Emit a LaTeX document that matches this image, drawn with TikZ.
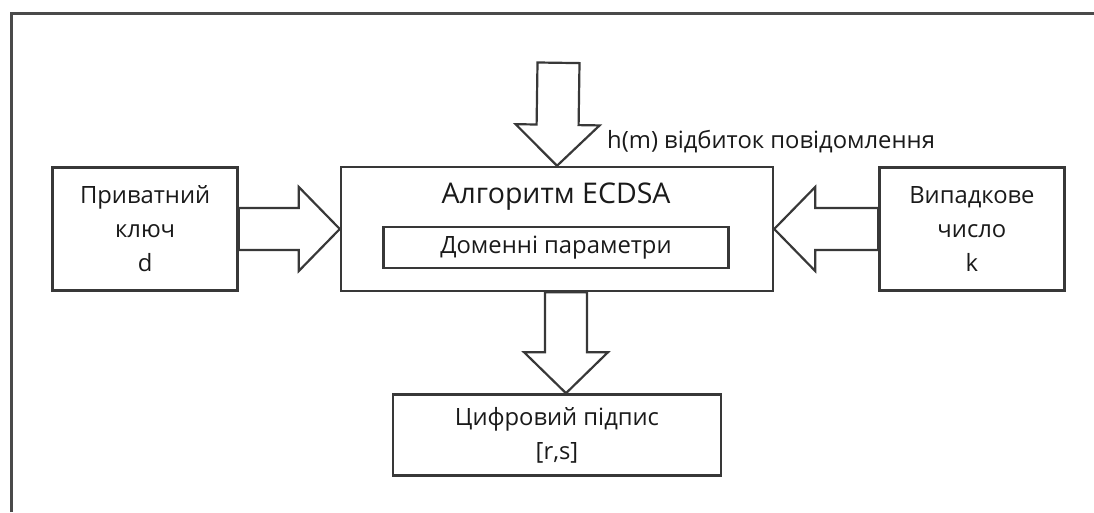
\documentclass[tikz,border=0pt]{standalone}
\usepackage{fontspec}
\setmainfont{Open Sans}
\usepackage{tikz}
\usetikzlibrary{positioning,calc}
\definecolor{ln}{HTML}{383838}
\definecolor{frm}{HTML}{4A4A4A}
\definecolor{ink}{HTML}{1A1A1A}
\tikzset{
  box/.style={draw=ln, line width=2.4pt, fill=white, align=center, text=ink,
              font=\fontsize{23.8}{34}\selectfont, inner sep=0pt},
  ttl/.style={text=ink, font=\fontsize{28.5}{34}\selectfont, inner sep=0pt},
  txt/.style={text=ink, font=\fontsize{23.8}{34}\selectfont, inner sep=0pt},
  fat/.style={draw=ln, line width=2.2pt, fill=white, line join=miter,
              to path={($(\tikztostart)!21pt!90:(\tikztotarget)$)
                -- ($(\tikztotarget)!41pt!(\tikztostart)!21pt!90:(\tikztotarget)$)
                -- ($(\tikztotarget)!41pt!(\tikztostart)!42pt!90:(\tikztotarget)$)
                -- (\tikztotarget)
                -- ($(\tikztotarget)!41pt!(\tikztostart)!42pt!-90:(\tikztotarget)$)
                -- ($(\tikztotarget)!41pt!(\tikztostart)!21pt!-90:(\tikztotarget)$)
                -- ($(\tikztostart)!21pt!-90:(\tikztotarget)$) -- cycle}},
}
\begin{document}
\begin{tikzpicture}[x=1pt, y=1pt]
  \useasboundingbox (0,0) rectangle (1094,512);
  % --- рамка
  \draw[frm, line width=3pt] (11,0) -- (11,498) -- (1094,498);

  % --- алгоритм
  \node[box, minimum width=432pt, minimum height=124pt] (alg) at (557,283) {};
  \node[ttl, anchor=base] (algtitle) at ($(alg.north)+(-1,-38)$) {Алгоритм ECDSA};
  \node[box, below=15pt of algtitle, minimum width=345pt, minimum height=41pt] (dom) {Доменні параметри};

  % --- входи та вихід
  \node[box, left=101pt of alg, minimum width=185pt, minimum height=123pt] (key) {Приватний\\ключ\\d};
  \node[box, right=104pt of alg, minimum width=185pt, minimum height=123pt] (rnd) {Випадкове\\число\\k};
  \node[box, below=101pt of alg, minimum width=328pt, minimum height=81pt] (sig) {Цифровий підпис\\{[r,s]}};
  \coordinate[above=103pt of alg.north, xshift=1.5pt] (msg);
  \node[txt, anchor=base west] (hash) at ($(alg.north)+(50,17)$) {h(m) відбиток повідомлення};

  % --- стрілки
  \coordinate (out) at ([xshift=9pt]alg.south);
  \draw[fat] (msg) to (alg.north);
  \draw[fat] (key.east) to (alg.west |- key.east);
  \draw[fat] (rnd.west) to (alg.east |- rnd.west);
  \draw[fat] (out) to (out |- sig.north);
\end{tikzpicture}
\end{document}
